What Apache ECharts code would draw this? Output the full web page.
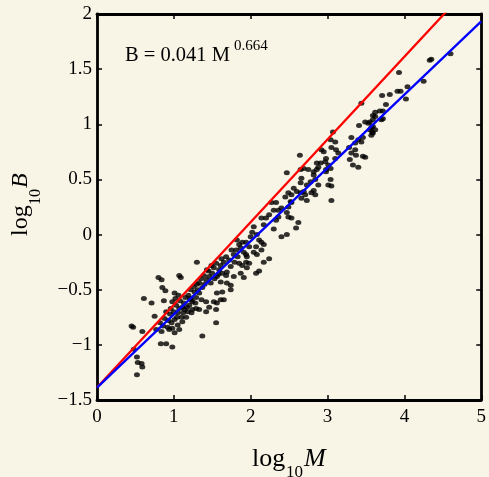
<!DOCTYPE html>
<html><head><meta charset="utf-8">
<script src="https://cdn.jsdelivr.net/npm/echarts@6/dist/echarts.min.js"></script>
<style>html,body{margin:0;padding:0;background:#f9f5e6;}#c{width:489px;height:477px;}</style>
</head><body><div id="c"></div>
<script>
// axis ranges / ticks
const xRange = [0, 5];
const yRange = [-1.5, 2];
const xTickStep = 1;
const yTickStep = 0.5;

// fitted power law B = a M^b  (blue) and reference slope (red)
const fitCoef = 0.041;
const fitExp = 0.664;
const refExp = 0.75;
const lineX = [0, 5];

// annotation text
const eqBase = 'B = 0.041 M';
const eqExp = '0.664';

// scatter data: [log10 M, log10 B]
const scatterPoints = [
[0.45,-0.83],[0.47,-0.84],[0.48,-1.04],[0.52,-1.11],[0.53,-1.16],[0.58,-1.17],[0.59,-1.20],[0.52,-1.27],[0.59,-0.88],[0.61,-0.58],
[0.71,-0.62],[0.75,-0.74],[0.80,-0.39],[0.84,-0.41],[0.85,-0.48],[0.89,-0.51],[0.87,-0.60],[0.83,-0.99],[0.90,-0.99],[0.98,-1.02],
[0.77,-0.86],[0.84,-0.88],[0.92,-0.84],[0.82,-0.80],[0.86,-0.83],[0.90,-0.70],[0.88,-0.76],[0.93,-0.78],[0.95,-0.72],[0.96,-0.67],
[1.07,-0.37],[1.09,-0.39],[1.01,-0.53],[1.30,-0.25],[0.98,-0.61],[1.03,-0.64],[1.07,-0.67],[1.11,-0.66],[1.05,-0.71],[1.10,-0.75],
[1.01,-0.77],[0.97,-0.80],[0.98,-0.85],[1.05,-0.82],[1.11,-0.79],[1.16,-0.75],[1.18,-0.70],[1.14,-0.68],[1.20,-0.64],[1.24,-0.61],
[1.29,-0.57],[1.23,-0.59],[1.33,-0.53],[1.27,-0.52],[1.37,-0.48],[1.33,-0.44],[1.42,-0.41],[1.46,-0.38],[1.50,-0.35],[1.43,-0.32],
[1.49,-0.28],[1.55,-0.26],[1.52,-0.30],[1.59,-0.32],[1.61,-0.28],[1.65,-0.25],[1.56,-0.38],[1.63,-0.35],[1.69,-0.34],[1.74,-0.29],
[1.72,-0.23],[1.78,-0.18],[1.81,-0.14],[1.85,-0.09],[1.89,-0.07],[1.82,-0.05],[1.87,-0.12],[1.91,-0.16],[1.94,-0.18],
[1.36,-0.59],[1.42,-0.61],[1.46,-0.66],[1.52,-0.61],[1.56,-0.62],[1.61,-0.59],[1.65,-0.59],[1.56,-0.53],[1.63,-0.52],[1.74,-0.50],
[1.74,-0.46],[1.69,-0.44],[1.61,-0.43],[1.68,-0.37],[1.78,-0.38],[1.85,-0.26],[1.94,-0.25],[1.87,-0.35],[1.91,-0.39],[1.95,-0.30],
[1.24,-0.68],[1.23,-0.71],[1.07,-0.86],[1.01,-0.89],[0.94,-0.86],[1.37,-0.92],[1.55,-0.80],
[1.00,-0.70],[1.04,-0.75],[1.08,-0.60],[1.13,-0.62],[1.15,-0.57],[1.19,-0.55],[1.22,-0.50],[1.26,-0.47],[1.30,-0.45],[1.35,-0.40],
[1.39,-0.37],[1.45,-0.33],[1.12,-0.71],[1.17,-0.66],[1.21,-0.58],[1.28,-0.62],[1.02,-0.58],[1.06,-0.55],[1.31,-0.50],[1.40,-0.45],
[1.48,-0.44],[1.53,-0.40],[1.58,-0.36],[1.62,-0.22],[1.68,-0.20],[1.75,-0.14],[1.79,-0.25],[1.83,-0.20],[1.55,-0.68],[1.42,-0.70],
[1.29,-0.67],[1.33,-0.68],
[2.47,0.56],[2.65,0.59],[2.69,0.60],[2.75,0.59],[2.82,0.57],[2.66,0.51],[2.65,0.47],[2.73,0.45],[2.82,0.54],[2.84,0.50],
[2.56,0.42],[2.60,0.39],[2.65,0.38],[2.69,0.39],[2.49,0.38],[2.53,0.36],[2.45,0.34],[2.52,0.30],[2.49,0.25],[2.53,0.29],
[2.47,0.20],[2.49,0.16],[2.53,0.15],[2.62,0.11],[2.40,0.24],[2.36,0.22],[2.30,0.22],[2.27,0.29],[2.33,0.29],[2.36,0.16],
[2.33,0.13],[2.24,0.18],[2.20,0.15],[2.14,0.15],[2.30,0.05],[2.40,-0.02],[2.04,0.07],[2.02,0.02],[2.00,-0.02],[2.08,0.00],
[2.11,-0.05],[2.14,-0.07],[2.17,-0.09],[1.94,-0.07],[1.98,-0.11],[2.07,-0.11],[2.04,-0.16],[1.95,-0.20],[2.14,-0.14],[2.08,-0.18],
[2.24,-0.22],[2.17,-0.25],[1.98,-0.26],[1.89,-0.28],[2.17,0.09],[2.64,0.72],[2.59,0.06],[2.47,0.00],[2.07,-0.35],[2.11,-0.33],
[3.07,0.93],[3.04,0.86],[3.10,0.84],[3.05,0.79],[3.11,0.77],[2.92,0.77],[3.14,0.74],[3.10,0.69],[2.97,0.66],[3.01,0.63],
[3.04,0.60],[2.98,0.59],[2.91,0.65],[2.88,0.61],[2.86,0.59],[3.04,0.50],[3.05,0.44],[3.05,0.31],[3.31,0.74],[3.37,0.72],
[3.29,0.68],[3.33,0.63],[3.40,0.61],[3.46,0.71],[3.49,0.70],[3.40,0.86],[3.44,0.84],[3.46,0.88],[3.49,1.02],[3.53,1.01],
[3.59,1.04],[3.62,1.11],[3.62,1.07],[3.41,0.99],[3.59,0.92],[3.62,0.95],[3.44,1.19],[3.28,0.79],[3.36,0.77],[2.95,0.75],
[2.98,0.69],[2.86,0.65],[2.98,0.57],[2.78,0.48],[3.01,0.45],[2.88,0.45],[2.82,0.40],[2.79,0.38],[2.84,0.36],[2.71,0.36],
[2.66,0.33],[2.73,0.31],[3.31,0.88],[3.36,0.83],
[4.60,1.64],[4.33,1.58],[4.35,1.59],[3.93,1.47],[4.25,1.39],[4.04,1.34],[3.91,1.30],[3.95,1.30],[4.02,1.23],[3.71,1.26],
[3.81,1.27],[3.76,1.18],[3.68,1.12],[3.72,1.12],[3.59,1.08],[3.70,1.04],[3.72,1.05],[3.55,1.02],[3.59,0.98],[3.57,0.97],
[3.55,0.95],[3.58,0.93],[3.57,0.90]
];

const SERIF = '"Liberation Serif", "DejaVu Serif", serif';
const fmt = v => String(v).replace('-', '\u2212');
const intercept = Math.log10(fitCoef);
const fitLine = lineX.map(x => [x, intercept + fitExp * x]);
const refLine = lineX.map(x => [x, intercept + refExp * x]);

const chart = echarts.init(document.getElementById('c'), null, {renderer: 'canvas'});
const axisLine = {show: true, onZero: false, lineStyle: {color: '#000', width: 2.8}};
const axisTick = {show: true, inside: true, length: 5, lineStyle: {color: '#000', width: 1.5}};
chart.setOption({
  backgroundColor: '#f9f5e6',
  animation: false,
  grid: {left: 97, right: 5, top: 14, bottom: 77, show: false},
  xAxis: [
    {type: 'value', min: xRange[0], max: xRange[1], interval: xTickStep, position: 'bottom',
     axisLine, axisTick, splitLine: {show: false},
     axisLabel: {color: '#000', fontFamily: SERIF, fontSize: 19, margin: 8, formatter: fmt}},
    {type: 'value', min: xRange[0], max: xRange[1], interval: xTickStep, position: 'top',
     axisLine, axisTick, splitLine: {show: false}, axisLabel: {show: false}}
  ],
  yAxis: [
    {type: 'value', min: yRange[0], max: yRange[1], interval: yTickStep, position: 'left',
     axisLine, axisTick, splitLine: {show: false},
     axisLabel: {color: '#000', fontFamily: SERIF, fontSize: 19, margin: 5, formatter: fmt}},
    {type: 'value', min: yRange[0], max: yRange[1], interval: yTickStep, position: 'right',
     axisLine, axisTick, splitLine: {show: false}, axisLabel: {show: false}}
  ],
  series: [
    {type: 'scatter', data: scatterPoints, symbol: 'circle', symbolSize: [6, 5],
     itemStyle: {color: '#000'}, z: 2},
    {type: 'line', data: refLine, symbol: 'none', clip: true,
     lineStyle: {color: '#ff0000', width: 2.3}, z: 3},
    {type: 'line', data: fitLine, symbol: 'none', clip: true,
     lineStyle: {color: '#0000ff', width: 2.3}, z: 3}
  ],
  graphic: [
    {type: 'text', left: 125, top: 45, style: {text: eqBase, font: '20.5px ' + SERIF, fill: '#000'}},
    {type: 'text', left: 234, top: 39, style: {text: eqExp, font: '15px ' + SERIF, fill: '#000'}},
    // x axis title
    {type: 'text', left: 252, top: 446, style: {text: 'log', font: '26px ' + SERIF, fill: '#000'}},
    {type: 'text', left: 286, top: 464, style: {text: '10', font: '17px ' + SERIF, fill: '#000'}},
    {type: 'text', left: 304, top: 446, style: {text: 'M', font: 'italic 26px ' + SERIF, fill: '#000'}},
    // y axis title (rotated)
    {type: 'group', x: 9, y: 236, rotation: Math.PI / 2, children: [
      {type: 'text', x: 0, y: 0, style: {text: 'log', font: '24px ' + SERIF, fill: '#000'}},
      {type: 'text', x: 31, y: 19, style: {text: '10', font: '16px ' + SERIF, fill: '#000'}},
      {type: 'text', x: 48, y: 0, style: {text: 'B', font: 'italic 24px ' + SERIF, fill: '#000'}}
    ]}
  ]
});
</script></body></html>
